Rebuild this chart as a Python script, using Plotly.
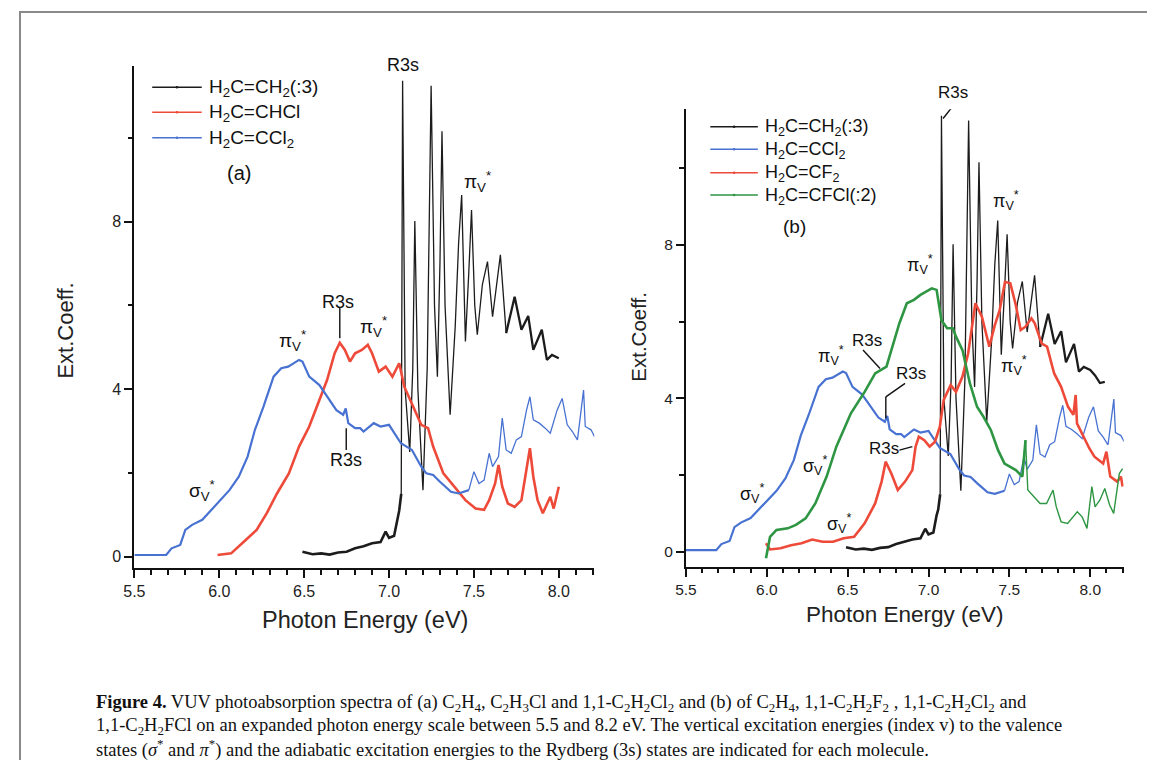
import plotly.graph_objects as go

# ---------------- data ----------------
eth_x = [6.49, 6.55, 6.60, 6.65, 6.70, 6.75, 6.80, 6.85, 6.90, 6.95, 6.98, 7.00, 7.03, 7.05, 7.060,
         7.072, 7.080, 7.095, 7.122, 7.140, 7.152, 7.170, 7.200, 7.225, 7.248, 7.268, 7.285, 7.300,
         7.312, 7.330, 7.360, 7.390, 7.410, 7.428, 7.450, 7.470, 7.486, 7.505, 7.520, 7.550, 7.580,
         7.610, 7.635, 7.656, 7.690, 7.715, 7.740, 7.780, 7.820, 7.850, 7.900, 7.930, 7.960, 8.000,
         8.030, 8.060, 8.090]
eth_y = [0.12, 0.06, 0.08, 0.05, 0.10, 0.12, 0.20, 0.25, 0.32, 0.35, 0.60, 0.45, 0.50, 0.95, 1.10,
         1.50, 11.37, 4.00, 2.50, 4.50, 8.02, 4.00, 1.59, 4.50, 11.25, 6.00, 4.30, 7.00,
         10.16, 6.00, 3.39, 5.50, 7.50, 8.64, 5.14, 6.80, 8.28, 6.00, 5.30, 6.50, 7.05,
         5.73, 6.60, 7.21, 5.34, 5.80, 6.21, 5.42, 5.75, 4.94, 5.42, 4.70, 4.82, 4.74,
         4.60, 4.40, 4.43]

ccl2_x = [5.50, 5.6875, 5.719, 5.77, 5.80, 5.84, 5.90, 5.96, 6.01, 6.06, 6.115, 6.167, 6.21, 6.26,
          6.32, 6.365, 6.406, 6.47, 6.49, 6.53, 6.59, 6.635, 6.69, 6.73, 6.745, 6.76, 6.80, 6.83,
          6.85, 6.91, 6.95, 7.00, 7.03, 7.07, 7.135, 7.19, 7.22, 7.26, 7.30, 7.365, 7.41, 7.47,
          7.50, 7.53, 7.56, 7.59, 7.61, 7.645, 7.667, 7.69, 7.72, 7.75, 7.78, 7.81, 7.83, 7.85,
          7.885, 7.92, 7.95, 7.99, 8.02, 8.05, 8.08, 8.11, 8.146, 8.156, 8.19, 8.21]
ccl2_y = [0.04, 0.04, 0.20, 0.28, 0.64, 0.76, 0.88, 1.15, 1.35, 1.59, 1.91, 2.39, 3.03, 3.58,
          4.30, 4.50, 4.54, 4.70, 4.66, 4.30, 4.10, 3.82, 3.50, 3.39, 3.54, 3.19, 3.07, 3.07,
          2.99, 3.19, 3.11, 3.15, 2.95, 2.71, 2.55, 2.15, 1.99, 1.95, 1.79, 1.55, 1.51, 1.59,
          2.03, 1.75, 1.83, 2.47, 2.15, 2.39, 3.31, 2.55, 2.47, 2.79, 2.87, 3.50, 3.82, 3.27,
          3.19, 3.07, 2.95, 3.50, 3.78, 3.15, 2.99, 2.79, 3.98, 3.11, 3.03, 2.87]

chcl_x = [5.99, 6.07, 6.156, 6.22, 6.28, 6.34, 6.41, 6.47, 6.53, 6.59, 6.635, 6.68, 6.71, 6.74,
          6.77, 6.80, 6.84, 6.875, 6.90, 6.94, 6.98, 7.02, 7.06, 7.09, 7.135, 7.19, 7.23, 7.26,
          7.32, 7.385, 7.45, 7.51, 7.56, 7.59, 7.625, 7.645, 7.667, 7.70, 7.74, 7.78, 7.81, 7.83,
          7.85, 7.875, 7.906, 7.95, 7.97, 8.00]
chcl_y = [0.04, 0.08, 0.40, 0.64, 1.04, 1.51, 1.99, 2.63, 3.11, 3.74, 4.22, 4.86, 5.11, 4.94,
          4.66, 4.86, 4.94, 5.06, 4.86, 4.42, 4.54, 4.30, 4.62, 4.06, 3.66, 3.15, 3.07, 2.63,
          1.99, 1.67, 1.35, 1.15, 1.12, 1.35, 1.75, 2.19, 1.67, 1.27, 1.19, 1.35, 2.15, 2.59,
          1.91, 1.35, 1.04, 1.43, 1.15, 1.67]

cf2_x = [5.995, 6.02, 6.085, 6.15, 6.215, 6.28, 6.345, 6.41, 6.475, 6.54, 6.605, 6.67, 6.71,
         6.735, 6.77, 6.81, 6.855, 6.90, 6.92, 6.94, 6.974, 7.007, 7.04, 7.07, 7.094, 7.137,
         7.17, 7.21, 7.245, 7.29, 7.33, 7.376, 7.41, 7.44, 7.473, 7.506, 7.54, 7.57, 7.60,
         7.636, 7.657, 7.70, 7.733, 7.777, 7.82, 7.863, 7.896, 7.91, 7.918, 7.96, 7.994, 8.026,
         8.08, 8.10, 8.124, 8.167, 8.19, 8.20]
cf2_y = [0.22, 0.06, 0.09, 0.17, 0.22, 0.32, 0.26, 0.26, 0.35, 0.39, 0.74, 1.26, 1.83,
         2.35, 2.04, 1.61, 1.83, 2.13, 2.74, 3.00, 2.91, 2.74, 2.87, 3.26, 3.96, 4.35,
         4.17, 4.57, 5.17, 6.48, 6.13, 5.35, 5.91, 6.30, 7.04, 7.00, 6.43, 5.78, 5.87,
         6.09, 5.96, 5.43, 5.35, 4.65, 4.30, 3.78, 3.57, 4.09, 3.35, 3.00, 2.70, 2.48,
         2.30, 2.61, 1.96, 1.83, 1.96, 1.70]

cfcl_x = [5.995, 6.02, 6.06, 6.13, 6.18, 6.24, 6.30, 6.37, 6.43, 6.52, 6.605, 6.67, 6.74, 6.78,
          6.82, 6.866, 6.91, 6.95, 7.02, 7.05, 7.08, 7.115, 7.15, 7.17, 7.21, 7.256, 7.30, 7.34,
          7.386, 7.43, 7.47, 7.54, 7.58, 7.60, 7.614, 7.65, 7.69, 7.73, 7.77, 7.79, 7.82, 7.86,
          7.92, 7.95, 7.98, 8.01, 8.03, 8.06, 8.09, 8.12, 8.145, 8.18, 8.20]
cfcl_y = [-0.17, 0.39, 0.57, 0.61, 0.70, 0.87, 1.26, 1.96, 2.74, 3.61, 4.17, 4.65, 4.83, 5.43,
          5.96, 6.48, 6.57, 6.70, 6.87, 6.83, 6.04, 5.83, 5.83, 5.61, 5.26, 4.39, 3.78, 3.52,
          3.17, 2.65, 2.30, 2.13, 1.96, 2.91, 1.61, 1.43, 1.26, 1.26, 1.61, 1.17, 0.78, 0.74,
          1.04, 0.91, 0.61, 1.70, 1.17, 1.35, 1.65, 1.22, 1.00, 2.04, 2.17]

x_ticks = [5.5, 6.0, 6.5, 7.0, 7.5, 8.0]
y_ticks = [0, 4, 8]

names_a = ["H<sub>2</sub>C=CH<sub>2</sub>(:3)", "H<sub>2</sub>C=CHCl", "H<sub>2</sub>C=CCl<sub>2</sub>"]
names_b = ["H<sub>2</sub>C=CH<sub>2</sub>(:3)", "H<sub>2</sub>C=CCl<sub>2</sub>",
           "H<sub>2</sub>C=CF<sub>2</sub>", "H<sub>2</sub>C=CFCl(:2)"]

# ---------------- geometry / styling ----------------
OFF = 8                     # page body margin of the html page
W, H = 1155 - OFF, 760 - OFF
BLACK, RED, BLUE, GREEN = "#1c1c1c", "#ee4a3a", "#4872d2", "#2e9642"
SANS = "Liberation Sans, Arial, sans-serif"
SERIF = "Liberation Serif, Times New Roman, serif"


def PX(X):
    return (X - OFF) / W


def PY(Y):
    return 1 - (Y - OFF) / H


fig = go.Figure()


def seg(xs, ys, lo, hi):
    pts = [(x, y) for x, y in zip(xs, ys) if lo <= x <= hi]
    return [p[0] for p in pts], [p[1] for p in pts]


def add(xs, ys, color, width, name, xa, ya):
    fig.add_trace(go.Scatter(x=xs, y=ys, mode="lines", line=dict(color=color, width=width),
                             name=name, xaxis=xa, yaxis=ya, showlegend=False))


# panel (a)
for lo, hi, w in [(0, 7.072, 2.6), (7.072, 7.69, 1.3), (7.69, 8.0, 2.3)]:
    add(*seg(eth_x, eth_y, lo, hi), BLACK, w, names_a[0], "x", "y")
add(chcl_x, chcl_y, RED, 2.6, names_a[1], "x", "y")
add(*seg(ccl2_x, ccl2_y, 0, 7.47), BLUE, 2.2, names_a[2], "x", "y")
add(*seg(ccl2_x, ccl2_y, 7.47, 9), BLUE, 1.3, names_a[2], "x", "y")

# panel (b)
for lo, hi, w in [(0, 7.072, 2.6), (7.072, 7.69, 1.3), (7.69, 9, 2.3)]:
    add(*seg(eth_x, eth_y, lo, hi), BLACK, w, names_b[0], "x2", "y2")
add(*seg(ccl2_x, ccl2_y, 0, 7.47), BLUE, 2.2, names_b[1], "x2", "y2")
add(*seg(ccl2_x, ccl2_y, 7.47, 9), BLUE, 1.3, names_b[1], "x2", "y2")
add(cf2_x, cf2_y, RED, 2.6, names_b[2], "x2", "y2")
add(*seg(cfcl_x, cfcl_y, 0, 7.6), GREEN, 2.6, names_b[3], "x2", "y2")
add(*seg(cfcl_x, cfcl_y, 7.58, 9), GREEN, 1.4, names_b[3], "x2", "y2")

# ---------------- axes ----------------
def axis(dom, rng, anchor, vals, minor_dt, fsize, fmt=None):
    d = dict(domain=dom, range=rng, anchor=anchor, tickvals=vals, showline=True, linecolor="#111",
             linewidth=2, showgrid=False, zeroline=False, ticks="outside", tickcolor="#111",
             tickwidth=2, ticklen=8, tickfont=dict(family=SANS, size=fsize, color="#222"),
             minor=dict(dtick=minor_dt, tick0=vals[0], ticklen=4.5, tickwidth=2, tickcolor="#111",
                        ticks="outside"))
    if fmt:
        d["tickformat"] = fmt
    return d


fig.update_layout(
    xaxis=axis([PX(124.5), PX(589)], [5.5, 8.21], "y", x_ticks, 0.1, 16, ".1f"),
    yaxis=axis([PY(568), PY(66)], [-0.27, 11.72], "x", y_ticks, 2, 16),
    xaxis2=axis([PX(681.4), PX(1123.4)], [5.5, 8.207], "y2", x_ticks, 0.1, 15.5, ".1f"),
    yaxis2=axis([PY(566.7), PY(109.3)], [-0.39, 11.54], "x2", y_ticks, 2, 15.5),
)

ann = []
shapes = []

# ---------------- legends (drawn like the original key) ----------------
leg_a = [(names_a[0], BLACK, 87.3), (names_a[1], RED, 112.3), (names_a[2], BLUE, 137.7)]
leg_b = [(names_b[0], BLACK, 126.7), (names_b[1], BLUE, 149.3), (names_b[2], RED, 172.7),
         (names_b[3], GREEN, 195.0)]
for items, x0, x1, xt, fs in [(leg_a, 142.5, 192.5, 197.5, 19), (leg_b, 706, 754, 759, 18)]:
    for name, col, yy in items:
        shapes.append(dict(type="line", xref="paper", yref="paper", x0=PX(x0), x1=PX(x1),
                           y0=PY(yy), y1=PY(yy), line=dict(color=col, width=1.5)))
        xm = (x0 + x1) / 2
        shapes.append(dict(type="circle", xref="paper", yref="paper", x0=PX(xm - 1.3), x1=PX(xm + 1.3),
                           y0=PY(yy + 1.3), y1=PY(yy - 1.3), fillcolor=col, line=dict(color=col, width=0)))
        ann.append(dict(text=name, x=PX(xt), y=PY(yy + 1), xref="paper", yref="paper",
                        showarrow=False, xanchor="left", yanchor="middle",
                        font=dict(family=SANS, size=fs, color="#111")))

# ---------------- curve labels ----------------
PI = "\u03c0<sub>V</sub><sup>*</sup>"
SIG = "\u03c3<sub>V</sub><sup>*</sup>"


def lab(text, x, y, xr, yr, size=18):
    ann.append(dict(text=text, x=x, y=y, xref=xr, yref=yr, showarrow=False,
                    font=dict(family=SANS, size=size, color="#111"), xanchor="center", yanchor="middle"))


# panel (a)  (top label sits above the axis range, so its height is given in page units)
lab("R3s", 7.08, PY(65), "x", "paper")
lab(PI, 7.52, 8.95, "x", "y", 19)
lab("(a)", 6.115, 9.17, "x", "y", 20)
lab("R3s", 6.70, 6.08, "x", "y")
lab(PI, 6.91, 5.49, "x", "y", 19)
lab(PI, 6.43, 5.16, "x", "y", 19)
lab("R3s", 6.745, 2.30, "x", "y")
lab(SIG, 5.90, 1.59, "x", "y", 19)

# panel (b)
lab("R3s", 7.15, PY(93), "x2", "paper", 17)
lab(PI, 7.48, 9.17, "x2", "y2", 18)
lab("(b)", 6.17, 8.48, "x2", "y2", 19)
lab(PI, 6.95, 7.48, "x2", "y2", 18)
lab(PI, 6.40, 5.13, "x2", "y2", 18)
lab("R3s", 6.62, 5.52, "x2", "y2", 17)
lab("R3s", 6.89, 4.65, "x2", "y2", 17)
lab("R3s", 6.725, 2.70, "x2", "y2", 17)
lab(SIG, 6.30, 2.26, "x2", "y2", 18)
lab(SIG, 5.91, 1.52, "x2", "y2", 18)
lab(SIG, 6.45, 0.74, "x2", "y2", 18)
lab(PI, 7.53, 4.87, "x2", "y2", 18)

# axis titles
for txt, cx, cy, ang, fs in [("Ext.Coeff.", 54, 331, -90, 22), ("Ext.Coeff.", 632.7, 337, -90, 20.5),
                             ("Photon Energy (eV)", 357, 620, 0, 23.5),
                             ("Photon Energy (eV)", 902.5, 614, 0, 22.5)]:
    ann.append(dict(text=txt, x=PX(cx), y=PY(cy), xref="paper", yref="paper", showarrow=False,
                    textangle=ang, font=dict(family=SANS, size=fs, color="#222"),
                    xanchor="center", yanchor="middle"))

# caption
cap = [
    "<b>Figure 4.</b> VUV photoabsorption spectra of (a) C<sub>2</sub>H<sub>4</sub>, C<sub>2</sub>H<sub>3</sub>Cl "
    "and 1,1-C<sub>2</sub>H<sub>2</sub>Cl<sub>2</sub> and (b) of C<sub>2</sub>H<sub>4</sub>, "
    "1,1-C<sub>2</sub>H<sub>2</sub>F<sub>2</sub> , 1,1-C<sub>2</sub>H<sub>2</sub>Cl<sub>2</sub> and",
    "1,1-C<sub>2</sub>H<sub>2</sub>FCl on an expanded photon energy scale between 5.5 and 8.2 eV. "
    "The vertical excitation energies (index v) to the valence",
    "states (<i>\u03c3</i><sup>*</sup> and <i>\u03c0</i><sup>*</sup>) and the adiabatic excitation energies "
    "to the Rydberg (3s) states are indicated for each molecule.",
]
for i, line in enumerate(cap):
    ann.append(dict(text=line, x=PX(84), y=PY(703.5 + 22.5 * i), xref="paper", yref="paper",
                    showarrow=False, xanchor="left", yanchor="middle",
                    font=dict(family=SERIF, size=18.5, color="#111")))

# leader lines for labels
lines = [
    ("x", "y", [(6.71, 5.94), (6.71, 5.22)]),
    ("x", "y", [(6.748, 3.07), (6.748, 2.55)]),
    ("x2", "y2", [(7.09, 11.30), (7.15, 11.62)]),
    ("x2", "y2", [(6.595, 5.26), (6.70, 4.78)]),
    ("x2", "y2", [(6.855, 4.39), (6.736, 4.04), (6.736, 3.48)]),
    ("x2", "y2", [(6.82, 2.65), (6.90, 2.74)]),
]
for xr, yr, pts in lines:
    for (x0, y0), (x1, y1) in zip(pts[:-1], pts[1:]):
        shapes.append(dict(type="line", xref=xr, yref=yr, x0=x0, y0=y0, x1=x1, y1=y1,
                           line=dict(color="#111", width=1.4)))
# figure frame
shapes.append(dict(type="rect", xref="paper", yref="paper", x0=PX(9), x1=1.02, y0=-0.02,
                   y1=PY(12), line=dict(color="#8a8a8a", width=2)))

fig.update_layout(annotations=ann, shapes=shapes, width=W, height=H,
                  margin=dict(l=0, r=0, t=0, b=0), paper_bgcolor="white", plot_bgcolor="white",
                  showlegend=False)

fig.write_html("out.html")
